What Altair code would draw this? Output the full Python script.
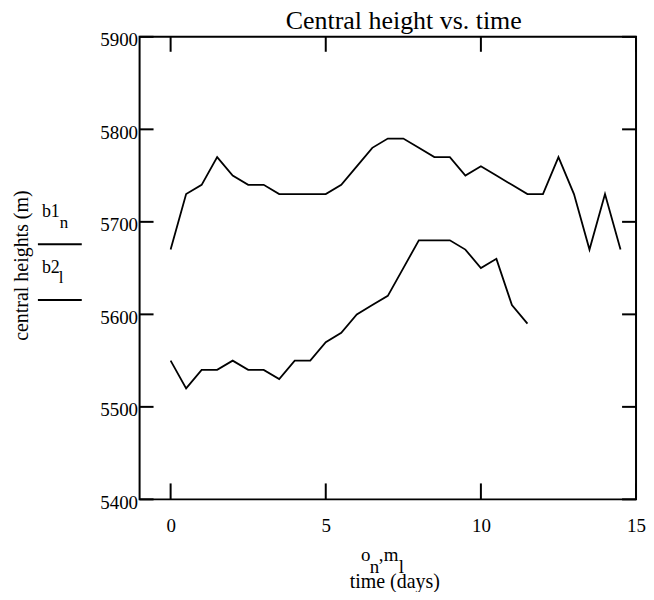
import altair as alt
import pandas as pd

# ---- data ----
t1 = [0, 0.5, 1, 1.5, 2, 2.5, 3, 3.5, 4, 4.5, 5, 5.5, 6, 6.5, 7, 7.5,
      8, 8.5, 9, 9.5, 10, 10.5, 11, 11.5, 12, 12.5, 13, 13.5, 14, 14.5]
b1 = [5670, 5730, 5740, 5770, 5750, 5740, 5740, 5730, 5730, 5730, 5730, 5740,
      5760, 5780, 5790, 5790, 5780, 5770, 5770, 5750, 5760, 5750, 5740, 5730,
      5730, 5770, 5730, 5670, 5730, 5670]
t2 = [0, 0.5, 1, 1.5, 2, 2.5, 3, 3.5, 4, 4.5, 5, 5.5, 6, 6.5, 7, 7.5,
      8, 8.5, 9, 9.5, 10, 10.5, 11, 11.5]
b2 = [5550, 5520, 5540, 5540, 5550, 5540, 5540, 5530, 5550, 5550, 5570, 5580,
      5600, 5610, 5620, 5650, 5680, 5680, 5680, 5670, 5650, 5660, 5610, 5590]
x_ticks = [0, 5, 10, 15]
y_ticks = [5400, 5500, 5600, 5700, 5800, 5900]
x_domain = [-1, 15]
y_domain = [5400, 5900]

W, H = 498, 464
FONT = "Liberation Serif"
OX, OY = 140, 36  # page position of plot origin

df = pd.concat([
    pd.DataFrame({"t": t1, "h": b1, "s": "b1"}),
    pd.DataFrame({"t": t2, "h": b2, "s": "b2"}),
])

xs = alt.Scale(domain=x_domain, nice=False, zero=False)
ys = alt.Scale(domain=y_domain, nice=False, zero=False)

xaxis = alt.Axis(
    values=x_ticks, tickSize=0, domain=False, grid=False, title=None, format="d",
    labelFont=FONT, labelFontSize=19, labelColor="black", labelPadding=17,
    labelFlush=False, labelOverlap=False)
yaxis = alt.Axis(
    values=y_ticks, tickSize=0, domain=False, grid=False, format="d",
    labelFont=FONT, labelFontSize=19, labelColor="black", labelPadding=2,
    labelOffset=3, labelFlush=False, labelOverlap=False,
    title="central heights (m)", titleFont=FONT, titleFontSize=20,
    titleFontWeight="normal", titleColor="black", titleAngle=270,
    titleAlign="center", titleBaseline="alphabetic",
    titleX=28 - OX, titleY=265 - OY)

lines = alt.Chart(df).mark_line(color="black", strokeWidth=1.8).encode(
    x=alt.X("t:Q", scale=xs, axis=xaxis),
    y=alt.Y("h:Q", scale=ys, axis=yaxis),
    detail="s:N",
)

xt = pd.DataFrame({"v": x_ticks})
yt = pd.DataFrame({"v": y_ticks})
tick_bottom = alt.Chart(xt).mark_rule(color="black", strokeWidth=2).encode(
    x=alt.X("v:Q", scale=xs, axis=xaxis), y=alt.value(H), y2=alt.value(H - 16))
tick_top = alt.Chart(xt).mark_rule(color="black", strokeWidth=2).encode(
    x=alt.X("v:Q", scale=xs, axis=xaxis), y=alt.value(0), y2=alt.value(15))
tick_left = alt.Chart(yt).mark_rule(color="black", strokeWidth=2).encode(
    y=alt.Y("v:Q", scale=ys, axis=yaxis), x=alt.value(0), x2=alt.value(14))
tick_right = alt.Chart(yt).mark_rule(color="black", strokeWidth=2).encode(
    y=alt.Y("v:Q", scale=ys, axis=yaxis), x=alt.value(W), x2=alt.value(W - 14))


def label(text, px, py, size, align="left"):
    return alt.Chart(pd.DataFrame({"txt": [text]})).mark_text(
        font=FONT, fontSize=size, align=align, baseline="alphabetic",
        color="black").encode(text="txt:N", x=alt.value(px - OX), y=alt.value(py - OY))


def seg(px1, px2, py):
    return alt.Chart(pd.DataFrame({"k": [0]})).mark_rule(
        color="black", strokeWidth=2).encode(
        x=alt.value(px1 - OX), x2=alt.value(px2 - OX), y=alt.value(py - OY))


annotations = [
    # chart title
    label("Central height vs. time", 405, 28, 26, align="center"),
    # Mathcad trace labels on the left
    label("b1", 42, 217, 18), label("n", 60, 228, 17), seg(38, 82, 244),
    label("b2", 42, 273, 18), label("l", 59, 283, 17), seg(38, 82, 300),
    # x axis expression and title
    label("o", 362, 562, 19), label("n", 371, 574, 19), label(",", 380, 562, 19),
    label("m", 385, 562, 19), label("l", 400, 574, 19),
    label("time (days)", 396, 589, 20, align="center"),
]

chart = alt.layer(lines, tick_bottom, tick_top, tick_left, tick_right, *annotations).properties(
    width=W, height=H,
    autosize=alt.AutoSizeParams(type="none"),
    padding={"left": OX - 8, "top": OY - 8, "right": 10, "bottom": 92},
).configure_view(stroke="black", strokeWidth=2)

chart.save("out.html", embed_options={"renderer": "svg", "actions": False})
